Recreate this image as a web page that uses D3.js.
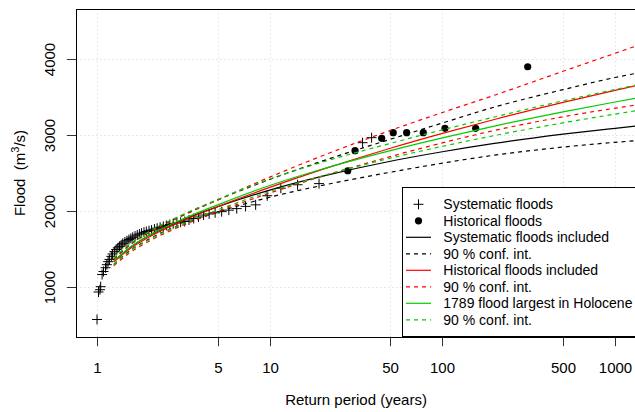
<!DOCTYPE html>
<html><head><meta charset="utf-8">
<script src="https://cdn.jsdelivr.net/npm/d3@7"></script>
<style>body{margin:0;background:#fff}svg{display:block}text{font-family:"Liberation Sans",Arial,Helvetica,sans-serif;fill:#000}</style>
</head><body><svg id="c" width="635" height="412"></svg>
<script>
// ---- data ----
const xTicks = [1, 5, 10, 50, 100, 500, 1000];
const yTicks = [1000, 2000, 3000, 4000];

// systematic floods (return period, flood m3/s)
const sysT = [38.9, 34.5, 19.3, 14.5, 11.6, 9.67, 8.29, 7.25, 6.44, 5.8, 5.27, 4.83, 4.46, 4.14, 3.87, 3.63, 3.41, 3.22, 3.05, 2.9, 2.76, 2.64, 2.52, 2.42, 2.32, 2.23, 2.15, 2.07, 2.0, 1.93, 1.87, 1.81, 1.76, 1.71, 1.66, 1.61, 1.57, 1.53, 1.49, 1.45, 1.41, 1.38, 1.35, 1.32, 1.29, 1.26, 1.23, 1.21, 1.18, 1.16, 1.14, 1.12, 1.09, 1.07, 1.05, 1.04, 1.02, 1.0];
const sysQ = [2966, 2900, 2360, 2345, 2300, 2200, 2080, 2060, 2030, 2010, 1990, 1975, 1960, 1945, 1920, 1900, 1880, 1860, 1850, 1840, 1830, 1820, 1808, 1796, 1784, 1772, 1760, 1748, 1738, 1728, 1718, 1706, 1694, 1682, 1668, 1652, 1638, 1622, 1606, 1590, 1572, 1552, 1532, 1512, 1490, 1462, 1432, 1400, 1360, 1330, 1290, 1250, 1200, 1160, 1000, 960, 930, 567];

// historical floods
const histT = [28.3, 31.2, 44.5, 51.9, 62.1, 77.5, 103.5, 155.9, 311.9];
const histQ = [2530, 2794, 2958, 3032, 3032, 3032, 3090, 3090, 3902];

// fitted curves, read at these return periods
const fitT    = [1.25, 1.5, 2, 3, 5, 10, 20, 50, 100, 200, 500, 1000, 1320];
const sysFit  = [1330, 1490, 1675, 1865, 2055, 2275, 2455, 2655, 2780, 2890, 3012, 3090, 3120];
const sysHi   = [1360, 1525, 1720, 1925, 2145, 2415, 2655, 2945, 3160, 3370, 3600, 3760, 3815];
const sysLo   = [1295, 1450, 1628, 1810, 1985, 2180, 2335, 2510, 2630, 2735, 2842, 2905, 2926];
const histFit = [1325, 1478, 1656, 1850, 2057, 2310, 2544, 2827, 3023, 3206, 3432, 3590, 3651];
const histHi  = [1365, 1525, 1710, 1915, 2145, 2445, 2724, 3062, 3298, 3526, 3842, 4080, 4175];
const histLo  = [1275, 1425, 1600, 1790, 1990, 2235, 2454, 2717, 2898, 3061, 3242, 3355, 3396];
const holoFit = [1340, 1495, 1677, 1872, 2080, 2335, 2550, 2796, 2964, 3119, 3307, 3437, 3487];
const holoHi  = [1380, 1540, 1727, 1930, 2150, 2420, 2640, 2891, 3069, 3239, 3452, 3602, 3661];
const holoLo  = [1290, 1443, 1620, 1810, 2013, 2255, 2460, 2696, 2852, 2994, 3162, 3277, 3322];

const legendLabels = ["Systematic floods", "Historical floods", "Systematic floods included", "90 % conf. int.",
  "Historical floods included", "90 % conf. int.", "1789 flood largest in Holocene", "90 % conf. int."];

// ---- drawing ----
const RED = "#ff0000", GREEN = "#00cd00", BLACK = "#000000";
const svg = d3.select("#c");
const L = 76.3, R = 635.8, T = 9.3, B = 336.7;
const x = d3.scaleLog().domain([Math.pow(10, -0.12), Math.pow(10, 3.12)]).range([L, R]);
const y = d3.scaleLinear().domain([340, 4660]).range([B, T]);

svg.append("defs").append("clipPath").attr("id", "clip")
  .append("rect").attr("x", L).attr("y", T).attr("width", R - L).attr("height", B - T);

// grid
const grid = svg.append("g").attr("stroke", "#d3d3d3").attr("stroke-width", 1).attr("stroke-dasharray", "1,3");
grid.selectAll("line.v").data(xTicks).join("line")
  .attr("x1", d => Math.round(x(d)) + 0.5).attr("x2", d => Math.round(x(d)) + 0.5)
  .attr("y1", T).attr("y2", B);
grid.selectAll("line.h").data(yTicks).join("line")
  .attr("y1", d => Math.round(y(d)) + 0.5).attr("y2", d => Math.round(y(d)) + 0.5)
  .attr("x1", L).attr("x2", R);

const plot = svg.append("g").attr("clip-path", "url(#clip)");

// points
const plus = "M-5,0H5M0,-5V5";
plot.append("g").selectAll("path").data(sysT.map((t, i) => [t, sysQ[i]])).join("path")
  .attr("d", plus).attr("transform", d => `translate(${x(d[0])},${y(d[1])})`)
  .attr("stroke", BLACK).attr("stroke-width", 1).attr("fill", "none");
plot.append("g").selectAll("circle").data(histT.map((t, i) => [t, histQ[i]])).join("circle")
  .attr("cx", d => x(d[0])).attr("cy", d => y(d[1])).attr("r", 3.6).attr("fill", BLACK);

// curves
const line = d3.line().x(d => x(d[0])).y(d => y(d[1])).curve(d3.curveMonotoneX);
const curves = [
  [sysFit, BLACK, null], [sysHi, BLACK, "4,4"], [sysLo, BLACK, "4,4"],
  [histFit, RED, null], [histHi, RED, "4,4"], [histLo, RED, "4,4"],
  [holoFit, GREEN, null], [holoHi, GREEN, "4,4"], [holoLo, GREEN, "4,4"]
];
curves.forEach(([vals, col, dash]) => {
  plot.append("path").datum(fitT.map((t, i) => [t, vals[i]]))
    .attr("d", line).attr("fill", "none").attr("stroke", col).attr("stroke-width", 1.2)
    .attr("stroke-dasharray", dash);
});

// axes
const ax = svg.append("g");
xTicks.forEach(t => {
  const px = Math.round(x(t)) + 0.5;
  ax.append("line").attr("x1", px).attr("x2", px).attr("y1", B).attr("y2", B + 9.5).attr("stroke", "#333");
  ax.append("text").attr("x", px).attr("y", 373).attr("text-anchor", "middle").attr("font-size", 15).text(t);
});
yTicks.forEach(v => {
  const py = Math.round(y(v)) + 0.5;
  ax.append("line").attr("x1", L - 9.5).attr("x2", L).attr("y1", py).attr("y2", py).attr("stroke", "#333");
  ax.append("text").attr("transform", `translate(54.5,${py}) rotate(-90)`).attr("text-anchor", "middle")
    .attr("font-size", 15).text(v);
});
ax.append("text").attr("x", (L + R) / 2).attr("y", 405).attr("text-anchor", "middle").attr("font-size", 15)
  .text("Return period (years)");
const yl = ax.append("text").attr("transform", `translate(24.5,${(T + B) / 2}) rotate(-90)`)
  .attr("text-anchor", "middle").attr("font-size", 15);
yl.append("tspan").text("Flood\u00a0\u00a0(m");
yl.append("tspan").attr("dy", -6).attr("font-size", 11).text("3");
yl.append("tspan").attr("dy", 6).text("/s)");

// box
svg.append("rect").attr("x", Math.round(L) + 0.5).attr("y", Math.round(T) + 0.5)
  .attr("width", R - Math.round(L) + 2).attr("height", Math.round(B) - Math.round(T))
  .attr("fill", "none").attr("stroke", BLACK).attr("stroke-width", 1);

// legend
const lg = svg.append("g");
lg.append("rect").attr("x", 402.5).attr("y", 187.5).attr("width", 240).attr("height", 149)
  .attr("fill", "#fff").attr("stroke", BLACK).attr("stroke-width", 1);
const rowY = i => 204.3 + i * 16.5;
const legendKeys = [
  {type: "plus"}, {type: "dot"},
  {type: "line", col: BLACK, dash: null}, {type: "line", col: BLACK, dash: "4,4"},
  {type: "line", col: RED, dash: null}, {type: "line", col: RED, dash: "4,4"},
  {type: "line", col: GREEN, dash: null}, {type: "line", col: GREEN, dash: "4,4"}
];
legendKeys.forEach((k, i) => {
  const cy = rowY(i);
  if (k.type === "plus") {
    lg.append("path").attr("d", plus).attr("transform", `translate(418.5,${cy})`).attr("stroke", BLACK).attr("fill", "none");
  } else if (k.type === "dot") {
    lg.append("circle").attr("cx", 418.5).attr("cy", cy).attr("r", 3.6).attr("fill", BLACK);
  } else {
    lg.append("line").attr("x1", 406).attr("x2", 431).attr("y1", cy).attr("y2", cy)
      .attr("stroke", k.col).attr("stroke-width", 1.2).attr("stroke-dasharray", k.dash);
  }
  lg.append("text").attr("x", 443.3).attr("y", cy + 5).attr("font-size", 14).text(legendLabels[i]);
});
</script></body></html>
